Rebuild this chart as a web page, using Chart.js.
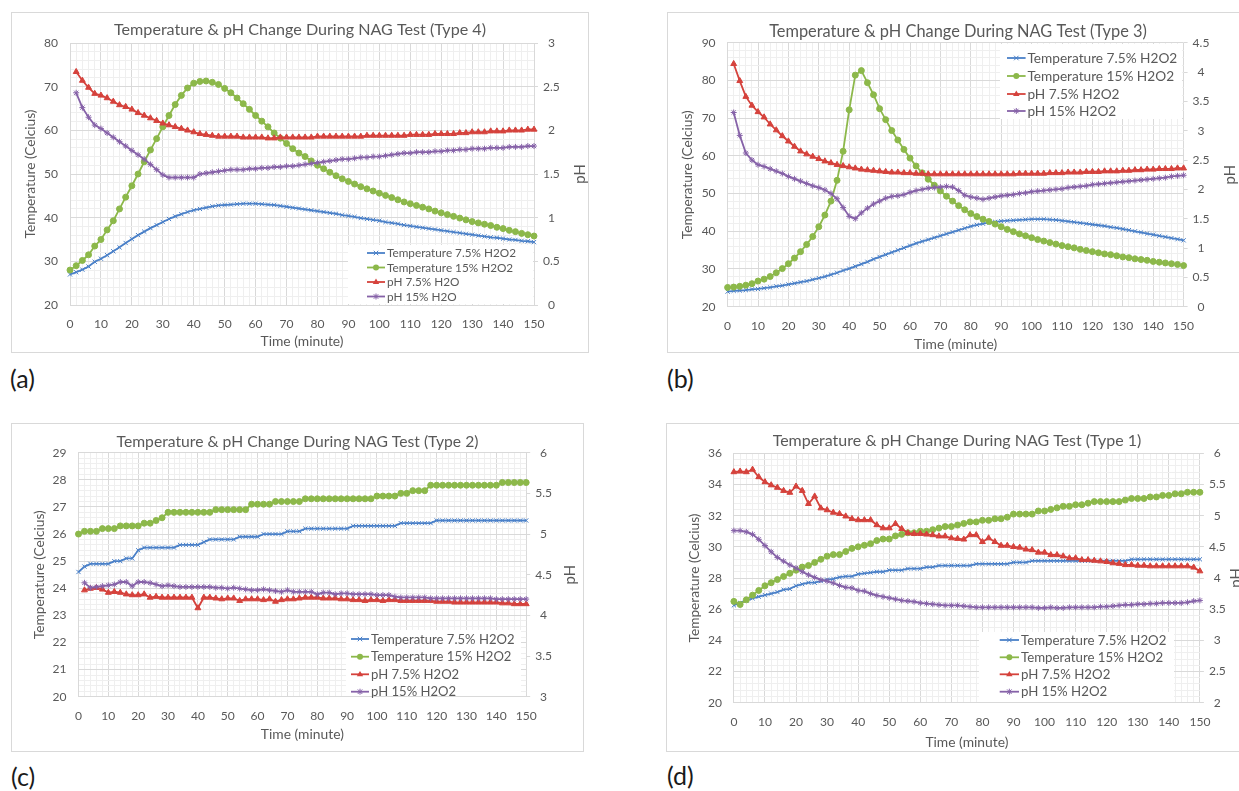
<!DOCTYPE html>
<html>
<head>
<meta charset="utf-8">
<script src="https://cdn.jsdelivr.net/npm/chart.js"></script>
<style>
html,body{margin:0;padding:0;background:#fff;overflow:hidden;width:1239px;height:791px;position:relative;}
.frame{position:absolute;border:1px solid #d9d9d9;box-sizing:border-box;}
canvas{position:absolute;}
.plabel{position:absolute;font-family:Lato,"Open Sans",sans-serif;font-size:25px;line-height:25px;color:#1a1a1a;}
</style>
</head>
<body>
<div class="plabel" style="left:10px;top:366px;">(a)</div>
<div class="plabel" style="left:667px;top:366px;">(b)</div>
<div class="plabel" style="left:11px;top:764px;">(c)</div>
<div class="plabel" style="left:667px;top:763px;">(d)</div>
<script>
// ---------- data ----------
const minutes = [0,2,4,6,8,10,12,14,16,18,20,22,24,26,28,30,32,34,36,38,40,42,44,46,48,50,52,54,56,58,60,62,64,66,68,70,72,74,76,78,80,82,84,86,88,90,92,94,96,98,100,102,104,106,108,110,112,114,116,118,120,122,124,126,128,130,132,134,136,138,140,142,144,146,148,150];
const xMajorTicks = [0,10,20,30,40,50,60,70,80,90,100,110,120,130,140,150];

// (a) Type 4
const A_temp75 = [27.0,27.5,28.1,28.8,29.9,30.6,31.4,32.3,33.2,34.2,35.1,36.0,36.8,37.6,38.3,39.0,39.7,40.3,40.8,41.3,41.7,42.0,42.3,42.6,42.8,42.9,43.0,43.1,43.2,43.2,43.2,43.1,43.0,42.9,42.7,42.5,42.3,42.1,41.9,41.7,41.5,41.3,41.1,40.9,40.6,40.4,40.2,39.9,39.7,39.5,39.3,39.0,38.8,38.6,38.3,38.1,37.9,37.7,37.5,37.3,37.1,36.9,36.7,36.5,36.3,36.1,35.9,35.7,35.5,35.4,35.2,35.0,34.9,34.7,34.6,34.4];
const A_temp15 = [28.0,29.0,30.2,31.5,33.5,35.0,37.2,39.3,42.0,44.7,47.3,50.0,52.8,55.5,58.1,60.8,63.4,65.9,68.0,69.7,70.8,71.2,71.3,71.0,70.5,69.6,68.6,67.4,66.1,64.8,63.4,62.1,60.8,59.4,58.2,57.0,55.8,54.8,54.0,53.0,52.0,51.2,50.4,49.6,48.9,48.3,47.7,47.1,46.6,46.1,45.6,45.1,44.6,44.1,43.6,43.2,42.8,42.4,42.0,41.5,41.1,40.7,40.3,39.9,39.5,39.1,38.8,38.5,38.2,37.8,37.5,37.1,36.8,36.4,36.1,35.8];
const A_ph75 = [null,2.67,2.57,2.49,2.42,2.40,2.37,2.33,2.29,2.27,2.24,2.20,2.17,2.14,2.11,2.08,2.06,2.04,2.02,2.00,1.98,1.96,1.95,1.94,1.93,1.93,1.93,1.93,1.92,1.92,1.92,1.92,1.91,1.91,1.92,1.92,1.92,1.92,1.92,1.92,1.93,1.93,1.93,1.93,1.93,1.93,1.93,1.93,1.94,1.94,1.94,1.94,1.94,1.94,1.94,1.95,1.95,1.95,1.95,1.96,1.96,1.96,1.96,1.97,1.97,1.98,1.98,1.98,1.99,1.99,1.99,2.00,2.00,2.00,2.01,2.01];
const A_ph15 = [null,2.43,2.26,2.15,2.06,2.02,1.97,1.92,1.87,1.82,1.77,1.72,1.67,1.61,1.55,1.49,1.46,1.46,1.46,1.46,1.46,1.50,1.51,1.52,1.53,1.54,1.55,1.55,1.55,1.56,1.56,1.57,1.57,1.58,1.58,1.59,1.59,1.60,1.61,1.62,1.63,1.64,1.65,1.66,1.67,1.67,1.68,1.69,1.69,1.70,1.70,1.71,1.72,1.73,1.74,1.74,1.75,1.75,1.75,1.76,1.76,1.77,1.77,1.78,1.78,1.79,1.79,1.79,1.80,1.80,1.80,1.81,1.81,1.81,1.82,1.82];

// (b) Type 3
const B_temp75 = [24.0,24.2,24.3,24.4,24.6,24.7,24.9,25.1,25.4,25.6,25.9,26.2,26.5,26.8,27.2,27.6,28.0,28.5,29.0,29.6,30.1,30.7,31.3,31.9,32.6,33.2,33.8,34.4,35.0,35.6,36.2,36.8,37.3,37.8,38.3,38.8,39.3,39.8,40.3,40.8,41.3,41.7,42.0,42.3,42.5,42.7,42.8,42.9,43.0,43.1,43.2,43.2,43.2,43.1,43.0,42.8,42.6,42.4,42.2,42.0,41.8,41.6,41.4,41.1,40.9,40.6,40.3,40.0,39.7,39.4,39.1,38.8,38.5,38.2,37.9,37.6];
const B_temp15 = [25.1,25.2,25.4,25.7,26.1,26.8,27.3,28.0,29.0,30.1,31.4,32.9,34.6,36.5,38.6,41.2,44.3,48.0,53.5,61.2,72.2,81.4,82.6,79.4,76.2,72.5,69.6,66.7,64.2,61.7,59.4,57.3,55.5,53.8,52.2,50.7,49.3,48.0,46.8,45.7,44.7,43.9,43.2,42.6,41.9,41.2,40.5,39.9,39.3,38.8,38.3,37.8,37.4,37.0,36.6,36.2,35.9,35.6,35.2,34.9,34.6,34.3,34.0,33.8,33.5,33.2,33.0,32.7,32.5,32.3,32.0,31.8,31.6,31.4,31.2,30.9];
const B_ph75 = [null,4.14,3.85,3.58,3.43,3.32,3.23,3.11,3.01,2.91,2.82,2.73,2.65,2.60,2.56,2.52,2.48,2.45,2.42,2.40,2.38,2.36,2.34,2.33,2.32,2.31,2.30,2.29,2.29,2.28,2.28,2.27,2.27,2.26,2.26,2.26,2.26,2.26,2.26,2.26,2.26,2.26,2.26,2.26,2.26,2.26,2.26,2.26,2.27,2.27,2.27,2.27,2.27,2.28,2.28,2.28,2.29,2.29,2.29,2.30,2.30,2.30,2.31,2.31,2.31,2.32,2.32,2.33,2.33,2.34,2.34,2.35,2.35,2.35,2.36,2.36];
const B_ph15 = [null,3.31,2.92,2.62,2.50,2.42,2.39,2.35,2.31,2.27,2.22,2.18,2.14,2.10,2.06,2.03,1.99,1.93,1.84,1.69,1.54,1.50,1.60,1.68,1.75,1.80,1.85,1.88,1.89,1.91,1.95,1.98,2.00,2.02,2.03,2.04,2.05,2.04,1.98,1.90,1.87,1.85,1.83,1.85,1.87,1.89,1.90,1.91,1.93,1.94,1.96,1.97,1.98,1.99,2.00,2.01,2.03,2.04,2.05,2.06,2.08,2.09,2.10,2.11,2.12,2.13,2.14,2.15,2.16,2.17,2.18,2.19,2.20,2.22,2.23,2.24];

// (c) Type 2
const C_temp75 = [24.6,24.8,24.9,24.9,24.9,24.9,25.0,25.0,25.1,25.1,25.4,25.5,25.5,25.5,25.5,25.5,25.5,25.6,25.6,25.6,25.6,25.7,25.8,25.8,25.8,25.8,25.8,25.9,25.9,25.9,25.9,26.0,26.0,26.0,26.0,26.1,26.1,26.1,26.2,26.2,26.2,26.2,26.2,26.2,26.2,26.2,26.3,26.3,26.3,26.3,26.3,26.3,26.3,26.3,26.4,26.4,26.4,26.4,26.4,26.4,26.5,26.5,26.5,26.5,26.5,26.5,26.5,26.5,26.5,26.5,26.5,26.5,26.5,26.5,26.5,26.5];
const C_temp15 = [26.0,26.1,26.1,26.1,26.2,26.2,26.2,26.3,26.3,26.3,26.3,26.4,26.4,26.5,26.6,26.8,26.8,26.8,26.8,26.8,26.8,26.8,26.8,26.9,26.9,26.9,26.9,26.9,26.9,27.1,27.1,27.1,27.1,27.2,27.2,27.2,27.2,27.2,27.3,27.3,27.3,27.3,27.3,27.3,27.3,27.3,27.3,27.3,27.3,27.3,27.4,27.4,27.4,27.4,27.5,27.5,27.6,27.6,27.6,27.8,27.8,27.8,27.8,27.8,27.8,27.8,27.8,27.8,27.8,27.8,27.8,27.9,27.9,27.9,27.9,27.9];
const C_ph75 = [null,4.31,4.33,4.34,4.32,4.28,4.29,4.28,4.26,4.25,4.25,4.26,4.22,4.23,4.22,4.22,4.22,4.22,4.22,4.22,4.09,4.22,4.22,4.21,4.20,4.21,4.21,4.18,4.20,4.20,4.20,4.19,4.20,4.17,4.19,4.20,4.20,4.21,4.22,4.22,4.22,4.21,4.21,4.21,4.20,4.20,4.19,4.19,4.18,4.19,4.19,4.18,4.19,4.19,4.18,4.18,4.18,4.18,4.18,4.18,4.17,4.17,4.17,4.16,4.16,4.16,4.16,4.16,4.16,4.16,4.16,4.15,4.15,4.14,4.14,4.14];
const C_ph15 = [null,4.40,4.34,4.35,4.36,4.37,4.38,4.41,4.41,4.36,4.41,4.41,4.40,4.38,4.36,4.37,4.36,4.35,4.35,4.35,4.35,4.35,4.35,4.34,4.34,4.33,4.34,4.33,4.32,4.31,4.31,4.32,4.31,4.30,4.29,4.31,4.29,4.29,4.29,4.29,4.26,4.28,4.28,4.26,4.27,4.27,4.26,4.26,4.26,4.26,4.25,4.25,4.25,4.23,4.22,4.22,4.22,4.22,4.22,4.21,4.21,4.21,4.21,4.21,4.21,4.21,4.21,4.21,4.21,4.21,4.20,4.20,4.20,4.20,4.20,4.20];

// (d) Type 1
const D_temp75 = [26.25,26.4,26.55,26.7,26.8,26.9,27.0,27.1,27.25,27.3,27.5,27.6,27.7,27.7,27.8,27.9,27.95,28.05,28.1,28.1,28.25,28.3,28.35,28.4,28.4,28.5,28.5,28.5,28.6,28.6,28.6,28.7,28.7,28.8,28.8,28.8,28.8,28.8,28.8,28.9,28.9,28.9,28.9,28.9,28.9,29.0,29.0,29.0,29.1,29.1,29.1,29.1,29.1,29.1,29.1,29.1,29.1,29.1,29.1,29.1,29.1,29.1,29.1,29.1,29.2,29.2,29.2,29.2,29.2,29.2,29.2,29.2,29.2,29.2,29.2,29.2];
const D_temp15 = [26.5,26.3,26.6,26.9,27.2,27.5,27.7,27.9,28.1,28.3,28.5,28.7,28.8,29.0,29.2,29.4,29.5,29.5,29.7,29.9,30.0,30.1,30.2,30.4,30.5,30.5,30.7,30.8,30.9,30.9,31.0,31.0,31.1,31.2,31.3,31.3,31.4,31.5,31.6,31.6,31.7,31.7,31.8,31.8,31.9,32.1,32.1,32.1,32.1,32.3,32.3,32.4,32.5,32.6,32.6,32.7,32.7,32.8,32.9,32.9,32.9,32.9,32.9,33.0,33.1,33.1,33.1,33.2,33.2,33.3,33.3,33.4,33.4,33.5,33.5,33.5];
const D_ph75 = [5.70,5.71,5.70,5.74,5.62,5.54,5.49,5.45,5.40,5.37,5.47,5.40,5.19,5.31,5.12,5.09,5.05,5.03,4.99,4.95,4.93,4.93,4.93,4.85,4.80,4.80,4.87,4.79,4.72,4.71,4.71,4.70,4.69,4.67,4.67,4.64,4.63,4.62,4.69,4.69,4.58,4.64,4.58,4.52,4.52,4.50,4.49,4.46,4.45,4.41,4.41,4.37,4.37,4.35,4.32,4.32,4.29,4.29,4.28,4.27,4.26,4.24,4.23,4.21,4.21,4.20,4.20,4.19,4.19,4.19,4.19,4.19,4.19,4.19,4.17,4.11];
const D_ph15 = [4.76,4.76,4.74,4.70,4.62,4.52,4.42,4.33,4.27,4.21,4.16,4.10,4.05,4.01,3.97,3.95,3.92,3.88,3.85,3.84,3.80,3.79,3.75,3.72,3.70,3.68,3.66,3.64,3.63,3.62,3.60,3.59,3.58,3.57,3.56,3.56,3.56,3.55,3.54,3.53,3.53,3.53,3.53,3.53,3.53,3.53,3.53,3.53,3.53,3.52,3.52,3.53,3.52,3.52,3.53,3.53,3.53,3.53,3.53,3.54,3.54,3.55,3.56,3.57,3.57,3.58,3.58,3.59,3.59,3.60,3.60,3.60,3.60,3.61,3.63,3.64];

// axis tick values
const A_tempTicks = [20,30,40,50,60,70,80];
const A_phTicks = [0,0.5,1,1.5,2,2.5,3];
const B_tempTicks = [20,30,40,50,60,70,80,90];
const B_phTicks = [0,0.5,1,1.5,2,2.5,3,3.5,4,4.5];
const C_tempTicks = [20,21,22,23,24,25,26,27,28,29];
const C_phTicks = [3,3.5,4,4.5,5,5.5,6];
const D_tempTicks = [20,22,24,26,28,30,32,34,36];
const D_phTicks = [2,2.5,3,3.5,4,4.5,5,5.5,6];

// ---------- styling ----------
const FONT = 'Lato, "Open Sans", sans-serif';
const TXT = '#595959';
const MAJOR = '#d9d9d9';
const MINOR = '#efefef';
const COL = {t75:'#4A80C8', t15:'#8CB84A', p75:'#D5423C', p15:'#8662A8'};

Chart.defaults.font.family = FONT;

function fitSize(text, target){
  const c = document.createElement('canvas').getContext('2d');
  c.font = '100px ' + FONT;
  return 100 * target / c.measureText(text).width;
}
const near = (v, arr) => arr.some(a => Math.abs(a - v) < 1e-6);
function steps(lo, hi, st){ const out=[]; const n=Math.round((hi-lo)/st); for(let i=0;i<=n;i++) out.push(Math.round((lo+i*st)*1000)/1000); return out; }

function drawMarker(ctx, style, x, y, r, color){
  ctx.save();
  ctx.strokeStyle = color; ctx.fillStyle = color; ctx.lineWidth = 1;
  ctx.beginPath();
  if (style === 'circle') { ctx.arc(x, y, r, 0, Math.PI*2); ctx.fill(); }
  else if (style === 'triangle') {
    ctx.moveTo(x, y - r); ctx.lineTo(x + r*0.95, y + r*0.6); ctx.lineTo(x - r*0.95, y + r*0.6); ctx.closePath(); ctx.fill();
  } else {
    const d = r*0.75;
    ctx.moveTo(x-d,y-d); ctx.lineTo(x+d,y+d); ctx.moveTo(x+d,y-d); ctx.lineTo(x-d,y+d);
    if (style === 'star') { ctx.moveTo(x, y-r); ctx.lineTo(x, y+r); ctx.moveTo(x-r,y); ctx.lineTo(x+r,y); }
    ctx.stroke();
  }
  ctx.restore();
}

const insideLegend = {
  id: 'insideLegend',
  afterDatasetsDraw(chart, args, o){
    if (!o || !o.box) return;
    const ctx = chart.ctx;
    ctx.save();
    ctx.fillStyle = '#ffffff';
    ctx.fillRect(o.box[0], o.box[1], o.box[2], o.box[3]);
    ctx.font = o.size + 'px ' + FONT;
    ctx.textBaseline = 'middle'; ctx.textAlign = 'left';
    chart.data.datasets.forEach((d, i) => {
      const y = o.rows[i];
      ctx.strokeStyle = d.borderColor; ctx.lineWidth = d.borderWidth;
      ctx.beginPath(); ctx.moveTo(o.x1, y); ctx.lineTo(o.x2, y); ctx.stroke();
      drawMarker(ctx, d.pointStyle, (o.x1 + o.x2)/2, y, d.pointRadius, d.borderColor);
      ctx.fillStyle = TXT;
      ctx.fillText(d.label, o.tx, y + 0.5);
    });
    ctx.restore();
  }
};
const phTitle = {
  id: 'phTitle',
  afterDraw(chart, args, o){
    if (!o || !o.x) return;
    const ctx = chart.ctx, a = chart.chartArea;
    ctx.save();
    ctx.translate(o.x, (a.top + a.bottom)/2);
    ctx.rotate(-Math.PI/2);
    ctx.font = o.size + 'px ' + FONT;
    ctx.fillStyle = TXT; ctx.textAlign = 'center'; ctx.textBaseline = 'middle';
    ctx.fillText('pH', 0, 0);
    ctx.restore();
  }
};
Chart.register(insideLegend, phTitle);

const tickSize = fitSize('150', 21);
const xTitleSize = fitSize('Time (minute)', 83);
const yTitleSize = fitSize('Temperature (Celcius)', 129);

function makeChart(cfg){
  const frame = document.createElement('div');
  frame.className = 'frame';
  Object.assign(frame.style, {left: cfg.L+'px', top: cfg.T+'px', width: cfg.W+'px', height: cfg.H+'px'});
  document.body.appendChild(frame);
  const cv = document.createElement('canvas');
  cv.width = cfg.W; cv.height = cfg.H;
  Object.assign(cv.style, {left: cfg.L+'px', top: cfg.T+'px', width: cfg.W+'px', height: cfg.H+'px'});
  document.body.appendChild(cv);

  const p = cfg.plot;
  const tSize = fitSize(cfg.title, cfg.titleW);
  const tPadTop = cfg.titleY - tSize*0.6;
  const tPadBot = p.t - tPadTop - tSize*1.2;
  const legSize = fitSize('Temperature 7.5% H2O2', cfg.legend.textW);

  const mk = (label, arr, key, style, radius, order) => ({
    label,
    data: minutes.map((m, i) => ({x: m, y: arr[i]})),
    yAxisID: key.charAt(0) === 'p' ? 'y1' : 'y',
    borderColor: COL[key], backgroundColor: COL[key],
    pointBackgroundColor: COL[key], pointBorderColor: COL[key],
    pointStyle: style, pointRadius: radius, pointHoverRadius: radius, pointBorderWidth: 1,
    borderWidth: 1.8, tension: 0, fill: false, order, clip: false, spanGaps: true
  });

  new Chart(cv, {
    type: 'line',
    data: {
      datasets: [
        mk(cfg.names[0], cfg.series[0], 't75', 'crossRot', 3, 4),
        mk(cfg.names[1], cfg.series[1], 't15', 'circle', 3, 3),
        mk(cfg.names[2], cfg.series[2], 'p75', 'triangle', 3.4, 2),
        mk(cfg.names[3], cfg.series[3], 'p15', 'star', 3, 1)
      ]
    },
    options: {
      responsive: false, animation: false, devicePixelRatio: 1, events: [],
      layout: {padding: 0},
      plugins: {
        legend: {display: false},
        tooltip: {enabled: false},
        title: {display: true, text: cfg.title, color: TXT, font: {family: FONT, size: tSize, weight: 'normal'}, padding: {top: tPadTop, bottom: tPadBot}},
        insideLegend: Object.assign({size: legSize}, cfg.legend),
        phTitle: {x: cfg.phX, size: xTitleSize + 1}
      },
      scales: {
        x: {
          type: 'linear', min: 0, max: 150,
          afterBuildTicks: s => { s.ticks = minutes.map(v => ({value: v})); },
          ticks: {autoSkip: false, maxRotation: 0, minRotation: 0, padding: 12, color: TXT, font: {family: FONT, size: tickSize},
                  callback: v => near(v, xMajorTicks) ? String(v) : ''},
          grid: {color: c => near(c.tick.value, xMajorTicks) ? MAJOR : MINOR, drawTicks: false, lineWidth: 1},
          border: {color: MAJOR},
          title: {display: true, text: 'Time (minute)', color: TXT, font: {family: FONT, size: xTitleSize},
                  padding: {top: 0, bottom: cfg.H - cfg.xTitleY - xTitleSize*0.6}},
          afterFit: s => { s.height = cfg.H - p.b; }
        },
        y: {
          type: 'linear', position: 'left', min: cfg.tempTicks[0], max: cfg.tempTicks[cfg.tempTicks.length-1],
          afterBuildTicks: s => { s.ticks = steps(cfg.tempTicks[0], cfg.tempTicks[cfg.tempTicks.length-1], cfg.minorStep).map(v => ({value: v})); },
          ticks: {autoSkip: false, padding: 12, color: TXT, font: {family: FONT, size: tickSize},
                  callback: v => near(v, cfg.tempTicks) ? String(Math.round(v)) : ''},
          grid: {color: c => near(c.tick.value, cfg.tempTicks) ? MAJOR : MINOR, drawTicks: false, lineWidth: 1},
          border: {color: MAJOR},
          title: {display: true, text: 'Temperature (Celcius)', color: TXT, font: {family: FONT, size: yTitleSize},
                  padding: {top: cfg.yTitleX - yTitleSize*0.6, bottom: 0}},
          afterFit: s => { s.width = p.l; }
        },
        y1: {
          type: 'linear', position: 'right', min: cfg.phTicks[0], max: cfg.phTicks[cfg.phTicks.length-1],
          afterBuildTicks: s => { s.ticks = cfg.phTicks.map(v => ({value: v})); },
          ticks: {autoSkip: false, padding: 5, crossAlign: 'center', color: TXT, font: {family: FONT, size: tickSize},
                  callback: v => String(Math.round(v*100)/100)},
          grid: {display: true, drawOnChartArea: false, drawTicks: true, tickLength: 4, color: MAJOR},
          border: {display: false},
          afterFit: s => { s.width = cfg.W - p.r; }
        }
      }
    }
  });
}

const namesH2O = ['Temperature 7.5% H2O2','Temperature 15% H2O2','pH 7.5% H2O','pH 15% H2O'];
const namesH2O2 = ['Temperature 7.5% H2O2','Temperature 15% H2O2','pH 7.5% H2O2','pH 15% H2O2'];

makeChart({
  L: 11, T: 12, W: 578, H: 341,
  plot: {l: 59, r: 523, t: 31, b: 293},
  title: 'Temperature & pH Change During NAG Test (Type 4)', titleW: 372, titleY: 18,
  yTitleX: 20, xTitleY: 330, phX: 569,
  tempTicks: A_tempTicks, phTicks: A_phTicks, minorStep: 2,
  names: namesH2O, series: [A_temp75, A_temp15, A_ph75, A_ph15],
  legend: {box: [337, 233, 185, 59], rows: [241, 255.5, 270, 284.5], x1: 356, x2: 374, tx: 376, textW: 129}
});
makeChart({
  L: 667, T: 12, W: 582, H: 341,
  plot: {l: 60.6, r: 516.6, t: 30.7, b: 294.7},
  title: 'Temperature & pH Change During NAG Test (Type 3)', titleW: 378, titleY: 19.7,
  yTitleX: 20.7, xTitleY: 333, phX: 563,
  tempTicks: B_tempTicks, phTicks: B_phTicks, minorStep: 2,
  names: namesH2O2, series: [B_temp75, B_temp15, B_ph75, B_ph15],
  legend: {box: [333, 32, 182, 75], rows: [46, 64, 82, 99], x1: 340, x2: 358.6, tx: 360.4, textW: 150}
});
makeChart({
  L: 11, T: 423, W: 573, H: 329,
  plot: {l: 67.5, r: 515.2, t: 29.7, b: 273.7},
  title: 'Temperature & pH Change During NAG Test (Type 2)', titleW: 362, titleY: 18.7,
  yTitleX: 29, xTitleY: 312, phX: 559,
  tempTicks: C_tempTicks, phTicks: C_phTicks, minorStep: 0.2,
  names: namesH2O2, series: [C_temp75, C_temp15, C_ph75, C_ph15],
  legend: {box: [335, 207, 175, 66], rows: [216, 233.7, 251.3, 268.7], x1: 340, x2: 358, tx: 360, textW: 143.6}
});
makeChart({
  L: 666, T: 423, W: 582, H: 329,
  plot: {l: 67.9, r: 533.9, t: 30.3, b: 279.7},
  title: 'Temperature & pH Change During NAG Test (Type 1)', titleW: 369, titleY: 18,
  yTitleX: 29, xTitleY: 319.7, phX: 570,
  tempTicks: D_tempTicks, phTicks: D_phTicks, minorStep: 0.4,
  names: namesH2O2, series: [D_temp75, D_temp15, D_ph75, D_ph15],
  legend: {box: [313, 209, 195, 70], rows: [217, 234.3, 251.3, 268.7], x1: 333.7, x2: 353, tx: 355, textW: 145.6}
});
</script>
</body>
</html>
